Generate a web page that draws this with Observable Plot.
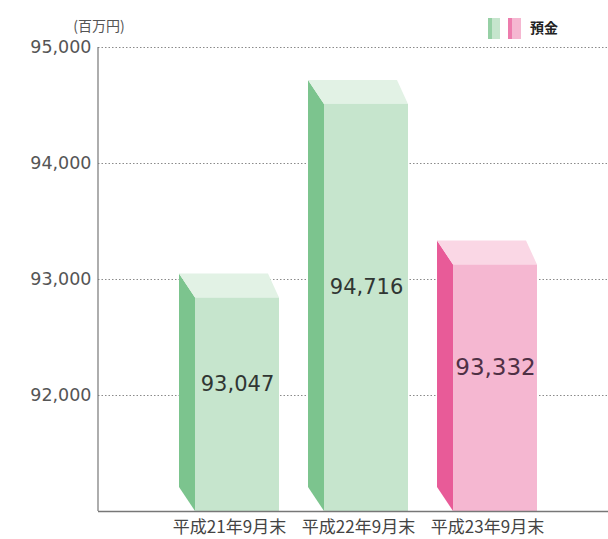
<!DOCTYPE html>
<html>
<head>
<meta charset="utf-8">
<script src="https://cdn.jsdelivr.net/npm/d3@7"></script>
<script src="https://cdn.jsdelivr.net/npm/@observablehq/plot@0.6"></script>
<style>
  html, body { margin: 0; padding: 0; background: #fff; }
  #chart svg { display: block; }
</style>
</head>
<body>
<div id="chart"></div>
<script>
// ---- data ----
const categories = ["平成21年9月末", "平成22年9月末", "平成23年9月末"];
const values = [93047, 94716, 93332];
const kinds = ["past", "past", "current"];
const yTicks = [92000, 93000, 94000, 95000];
const yDomain = [91000, 95000];
const unitLabel = "(百万円)";
const legendLabel = "預金";

// ---- styles ----
const palette = {
  past:    {front: "#c6e5cd", side: "#7cc48e", top: "#e2f2e5", text: "#303633", size: 21},
  current: {front: "#f5b7d1", side: "#e85b98", top: "#fad7e5", text: "#4f3045", size: 23}
};
const SIDE = 16, DEPTH = 24, BACKIN = 11;
const W = 608, H = 539;
const numFont = "'DejaVu Sans', 'Noto Sans CJK JP', sans-serif";
const jpFont = "'Noto Sans CJK JP', sans-serif";

function bars3d(index, scales) {
  const x = scales.x, y = scales.y;
  const bw = typeof x.bandwidth === "function" ? x.bandwidth() : x.bandwidth;
  const g = d3.create("svg:g");
  const yb = y(yDomain[0]);
  categories.forEach((c, i) => {
    const x0 = x(c), x1 = x0 + bw;
    const yt = y(values[i]);
    const col = palette[kinds[i]];
    g.append("polygon")
      .attr("points", [[x0, yt], [x0 + SIDE, yt + DEPTH], [x0 + SIDE, yb], [x0, yb - DEPTH]].map(p => p.join(",")).join(" "))
      .attr("fill", col.side);
    g.append("polygon")
      .attr("points", [[x0, yt], [x1 - BACKIN, yt], [x1, yt + DEPTH], [x0 + SIDE, yt + DEPTH]].map(p => p.join(",")).join(" "))
      .attr("fill", col.top);
    g.append("rect")
      .attr("x", x0 + SIDE).attr("y", yt + DEPTH)
      .attr("width", x1 - x0 - SIDE).attr("height", yb - yt - DEPTH)
      .attr("fill", col.front);
  });
  return g.node();
}

function decorations(index, scales, values_, dims) {
  const g = d3.create("svg:g");
  const y = scales.y;
  g.append("line")
    .attr("x1", dims.marginLeft).attr("x2", dims.marginLeft)
    .attr("y1", y(yDomain[1])).attr("y2", y(yDomain[0]))
    .attr("stroke", "#777").attr("stroke-width", 1.2);
  g.append("text")
    .attr("x", 99).attr("y", 27).attr("text-anchor", "middle").attr("dominant-baseline", "middle")
    .attr("font-family", jpFont).attr("font-size", 14).attr("fill", "#555")
    .text(unitLabel);
  const lg = g.append("g");
  lg.append("rect").attr("x", 488).attr("y", 18).attr("width", 4).attr("height", 21).attr("fill", palette.past.side).attr("opacity", 0.8);
  lg.append("rect").attr("x", 492).attr("y", 18).attr("width", 8).attr("height", 21).attr("fill", palette.past.front);
  lg.append("rect").attr("x", 508).attr("y", 18).attr("width", 4).attr("height", 21).attr("fill", palette.current.side).attr("opacity", 0.8);
  lg.append("rect").attr("x", 512).attr("y", 18).attr("width", 9).attr("height", 21).attr("fill", palette.current.front);
  lg.append("text")
    .attr("x", 530).attr("y", 29).attr("text-anchor", "start").attr("dominant-baseline", "middle")
    .attr("font-family", jpFont).attr("font-size", 14).attr("font-weight", "bold").attr("fill", "#222")
    .text(legendLabel);
  return g.node();
}

const chart = Plot.plot({
  width: W,
  height: H,
  marginLeft: 98,
  marginRight: 0,
  marginTop: 47,
  marginBottom: 28,
  style: {background: "#fff", fontFamily: numFont},
  x: {type: "band", domain: categories, range: [179, 537], paddingInner: 0.225, paddingOuter: 0, round: false},
  y: {domain: yDomain},
  marks: [
    Plot.ruleY(yTicks, {stroke: "#8a8a8a", strokeDasharray: "1.5,2", strokeWidth: 1}),
    bars3d,
    Plot.ruleY([yDomain[0]], {stroke: "#777", strokeWidth: 1.5}),
    decorations,
    Plot.text(categories, {
      x: d => d,
      y: (d, i) => (yDomain[0] + values[i]) / 2,
      dx: 8, dy: -9,
      text: (d, i) => d3.format(",")(values[i]),
      fontSize: (d, i) => palette[kinds[i]].size,
      fontFamily: numFont,
      fill: (d, i) => palette[kinds[i]].text
    }),
    Plot.axisY(yTicks, {tickSize: 0, tickPadding: 7, tickFormat: d3.format(","), fontSize: 17.5, fill: "#555", fontFamily: numFont, label: null}),
    Plot.axisX({tickSize: 0, tickPadding: 9, fontSize: 17, fill: "#444", fontFamily: jpFont, label: null})
  ]
});
document.getElementById("chart").appendChild(chart);
</script>
</body>
</html>
